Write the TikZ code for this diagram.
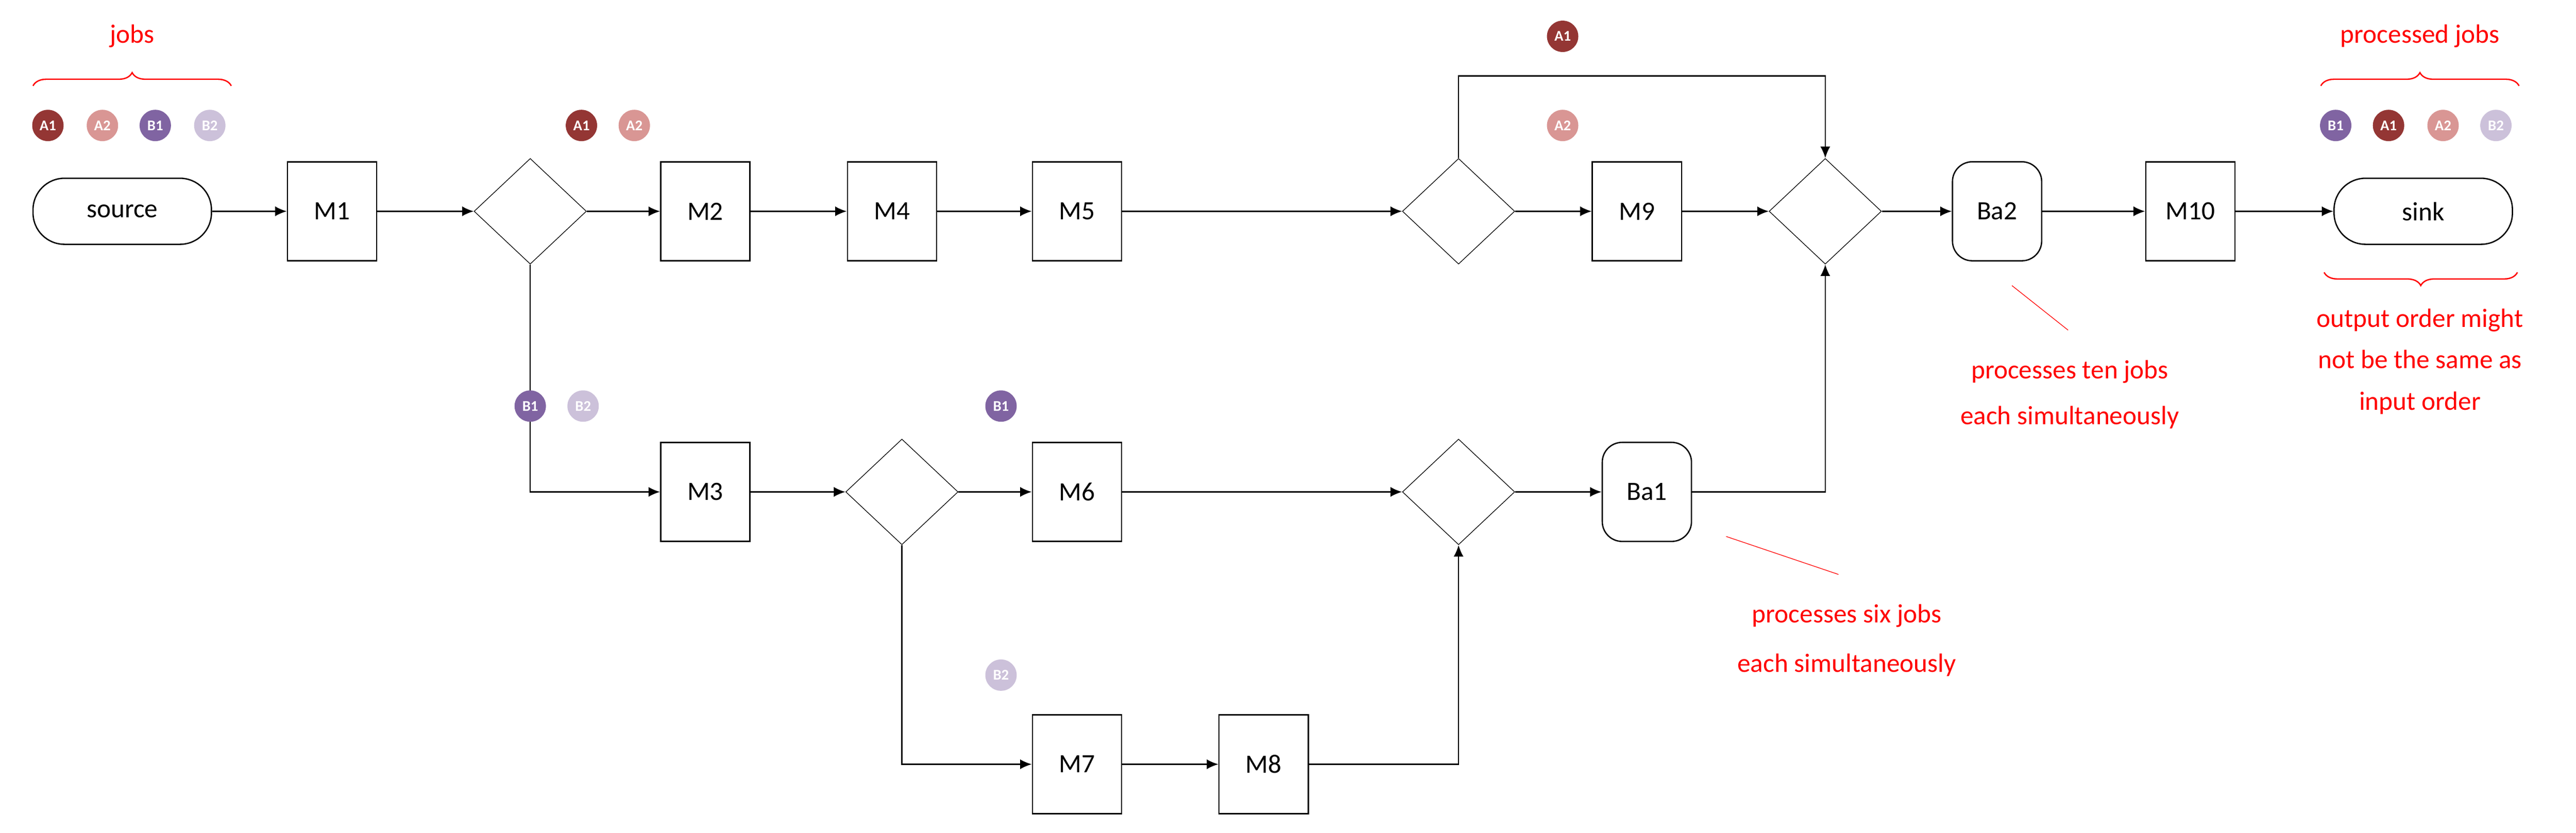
\documentclass[tikz,border=0pt]{standalone}
\usepackage{fontspec}
\setmainfont{Carlito}
\usetikzlibrary{shapes.geometric,arrows.meta,decorations.pathreplacing}
\definecolor{ca}{HTML}{943634}\definecolor{cb}{HTML}{D99694}
\definecolor{cc}{HTML}{8064A2}\definecolor{cd}{HTML}{CCC1DA}
\begin{document}
\begin{tikzpicture}[x=1pt,y=-1pt,
  box/.style={draw,thick,minimum width=54pt,minimum height=60pt,inner sep=0pt,font=\fontsize{16}{18}\selectfont},
  batch/.style={box,rounded corners=12pt},
  term/.style={draw,thick,rounded corners=19pt,minimum width=108pt,minimum height=40pt,inner sep=0pt,font=\fontsize{16}{18}\selectfont},
  dia/.style={draw,diamond,minimum width=68pt,minimum height=64pt,inner sep=0pt},
  job/.style={circle,fill=#1,text=white,minimum size=19pt,inner sep=0pt,font=\fontsize{9}{9}\selectfont\bfseries},
  arr/.style={thick,-{Latex[length=7pt,width=6pt]}},
  ln/.style={thick},
  note/.style={text=red,font=\fontsize{16}{25}\selectfont,align=center},
  br/.style={red,thick,decorate,decoration={brace,amplitude=8pt}}]
\useasboundingbox (0,0) rectangle (1559.5,504.5);
% top row
\node[term] (src) at (74,128) {source};
\node[box] (m1) at (201,128) {M1};
\node[dia] (d1) at (321,128) {};
\node[box] (m2) at (427,128) {M2};
\node[box] (m4) at (540,128) {M4};
\node[box] (m5) at (652,128) {M5};
\node[dia] (d2) at (883,128) {};
\node[box] (m9) at (991,128) {M9};
\node[dia] (d3) at (1105,128) {};
\node[batch] (ba2) at (1209,128) {Ba2};
\node[box] (m10) at (1326,128) {M10};
\node[term] (sink) at (1467,128) {sink};
% middle row
\node[box] (m3) at (427,298) {M3};
\node[dia] (d4) at (546,298) {};
\node[box] (m6) at (652,298) {M6};
\node[dia] (d5) at (883,298) {};
\node[batch] (ba1) at (997,298) {Ba1};
% bottom row
\node[box] (m7) at (652,463) {M7};
\node[box] (m8) at (765,463) {M8};
\coordinate (t1) at (883,46);
\coordinate (t2) at (1105,46);
% edges
\draw[arr] (src) -- (m1);
\draw[arr] (m1) -- (d1);
\draw[arr] (d1) -- (m2);
\draw[arr] (m2) -- (m4);
\draw[arr] (m4) -- (m5);
\draw[arr] (m5) -- (d2);
\draw[arr] (d2) -- (m9);
\draw[arr] (m9) -- (d3);
\draw[arr] (d3) -- (ba2);
\draw[arr] (ba2) -- (m10);
\draw[arr] (m10) -- (sink);
\draw[arr] (d1.south) |- (m3);
\draw[arr] (m3) -- (d4);
\draw[arr] (d4) -- (m6);
\draw[arr] (m6) -- (d5);
\draw[arr] (d5) -- (ba1);
\draw[arr] (d4.south) |- (m7);
\draw[arr] (m7) -- (m8);
\draw[arr] (m8) -| (d5.south);
\draw[arr] (ba1) -| (d3.south);
\draw[arr] (d2.north) -- (t1) -- (t2) -- (d3.north);
% jobs
\node[job=ca] (j1) at (29,76) {A1};
\node[job=cb] (j2) at (62,76) {A2};
\node[job=cc] (j3) at (94,76) {B1};
\node[job=cd] (j4) at (127,76) {B2};
\node[job=ca] (j5) at (352,76) {A1};
\node[job=cb] (j6) at (384,76) {A2};
\node[job=ca] (j7) at (946,22) {A1};
\node[job=cb] (j8) at (946,76) {A2};
\node[job=cc] (j9) at (321,246) {B1};
\node[job=cd] (j10) at (353,246) {B2};
\node[job=cc] (j11) at (606,246) {B1};
\node[job=cd] (j12) at (606,409) {B2};
\node[job=cc] (j13) at (1414,76) {B1};
\node[job=ca] (j14) at (1446,76) {A1};
\node[job=cb] (j15) at (1479,76) {A2};
\node[job=cd] (j16) at (1511,76) {B2};
% annotations
\coordinate (b1a) at (20,52); \coordinate (b1b) at (140,52);
\draw[br] (b1a) -- (b1b);
\node[note] (tj) at (80,22) {jobs};
\coordinate (b2a) at (1405,52); \coordinate (b2b) at (1525,52);
\draw[br] (b2a) -- (b2b);
\node[note] (tp) at (1465,22) {processed jobs};
\coordinate (b3a) at (1524,165); \coordinate (b3b) at (1407,165);
\draw[br] (b3a) -- (b3b);
\node[note] (to) at (1465,219) {output order might\\not be the same as\\input order};
\coordinate (l1a) at (1218,173); \coordinate (l1b) at (1252,200);
\draw[red] (l1a) -- (l1b);
\node[note,font=\fontsize{16}{28}\selectfont] (tten) at (1253,239) {processes ten jobs\\each simultaneously};
\coordinate (l2a) at (1045,325); \coordinate (l2b) at (1113,348);
\draw[red] (l2a) -- (l2b);
\node[note,font=\fontsize{16}{30}\selectfont] (tsix) at (1118,388) {processes six jobs\\each simultaneously};
\end{tikzpicture}
\end{document}
